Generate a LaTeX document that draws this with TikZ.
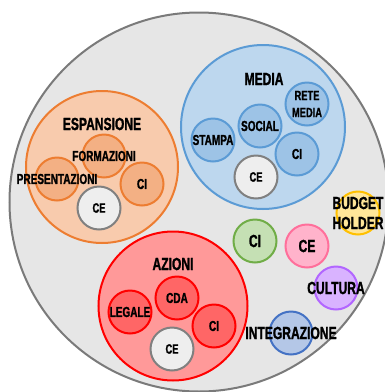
\documentclass[tikz,border=0pt]{standalone}
\usepackage{fontspec}
\newfontfamily\lbl[FakeStretch=0.69, BoldFeatures={FakeBold=1.3}]{Liberation Sans}
\definecolor{outerfill}{HTML}{E6E6E6}
\definecolor{outerline}{HTML}{7A7A7A}
\definecolor{orline}{HTML}{ED7D31}
\definecolor{orfill}{HTML}{F8CBAD}
\definecolor{orin}{HTML}{F3B084}
\definecolor{celine}{HTML}{808080}
\definecolor{cefill}{HTML}{EEEEEE}
\definecolor{blline}{HTML}{5B9BD5}
\definecolor{blfill}{HTML}{BDD7EE}
\definecolor{blin}{HTML}{9DC3E6}
\definecolor{rdline}{HTML}{FF0000}
\definecolor{rdfill}{HTML}{FF9999}
\definecolor{rdin}{HTML}{FF6666}
\definecolor{grline}{HTML}{70AD47}
\definecolor{grfill}{HTML}{C5E0B4}
\definecolor{pkline}{HTML}{FF6F9B}
\definecolor{pkfill}{HTML}{FFB3CB}
\definecolor{puline}{HTML}{B266FF}
\definecolor{pufill}{HTML}{D9B3FF}
\definecolor{yeline}{HTML}{FFC000}
\definecolor{yefill}{HTML}{FFE699}
\definecolor{inline}{HTML}{4472C4}
\definecolor{infill}{HTML}{B4C7E7}
\begin{document}
\begin{tikzpicture}[x=1pt,y=-1pt,
  every node/.style={inner sep=0pt, outer sep=0pt},
  bigtxt/.style={font=\lbl\bfseries\fontsize{17.5}{20}\selectfont},
  smalltxt/.style={font=\lbl\bfseries\fontsize{14.5}{16}\selectfont},
  cetxt/.style={font=\lbl\bfseries\fontsize{13.5}{15}\selectfont},
  group/.style={circle, line width=2pt},
  dot/.style={circle, line width=2pt, minimum size=43pt},
  cedot/.style={dot, draw=celine, fill=cefill, cetxt},
  ordot/.style={dot, draw=orline, fill=orin, smalltxt},
  bldot/.style={dot, draw=blline, fill=blin, smalltxt},
  rddot/.style={dot, draw=rdline, fill=rdin, smalltxt}]
\useasboundingbox (0,0) rectangle (385,392);
\clip (0,0) rectangle (385,392);
% outer world
\node[group, draw=outerline, fill=outerfill, minimum size=379pt] (world) at (199,202) {};
% ESPANSIONE
\node[group, draw=orline, fill=orfill, minimum size=152pt] (esp) at (102,167) {};
\node[bigtxt] (espl) at (102,124) {ESPANSIONE};
\node[ordot] (form) at (104,156) {};
\node[ordot] (pres) at (57,179) {};
\node[ordot] (espci) at (142,184) {CI};
\node[cedot] (espce) at (99,208) {CE};
\node[smalltxt] (forml) at (form) {FORMAZIONI};
\node[smalltxt] (presl) at (pres) {PRESENTAZIONI};
% MEDIA
\node[group, draw=blline, fill=blfill, minimum size=164pt] (media) at (263,127) {};
\node[bigtxt] (medial) at (264,79) {MEDIA};
\node[bldot, align=center, font=\lbl\bfseries\fontsize{13.5}{17}\selectfont] (rete) at (307,104) {RETE\\MEDIA};
\node[bldot] (social) at (260,126) {SOCIAL};
\node[bldot] (stampa) at (213,140) {STAMPA};
\node[bldot] (medci) at (297,154) {CI};
\node[cedot] (medce) at (256,177) {CE};
% AZIONI
\node[group, draw=rdline, fill=rdfill, minimum size=149pt] (az) at (173,306) {};
\node[bigtxt] (azl) at (173,264) {AZIONI};
\node[rddot] (cda) at (177,298) {CDA};
\node[rddot] (legale) at (130,312) {LEGALE};
\node[rddot] (azci) at (214,326) {CI};
\node[cedot] (azce) at (172,349) {CE};
% loose circles
\node[dot, draw=grline, fill=grfill, bigtxt] (ci) at (255,241) {CI};
\node[dot, draw=pkline, fill=pkfill, bigtxt] (ce) at (307,246) {CE};
\node[dot, draw=yeline, fill=yefill] (budget) at (358,213) {};
\node[bigtxt, align=center] (budgetl) at (358,213) {BUDGET\\HOLDER};
\node[dot, draw=puline, fill=pufill] (cult) at (336,288) {};
\node[bigtxt] (cultl) at (cult) {CULTURA};
\node[dot, draw=inline, fill=infill] (integ) at (291,333) {};
\node[bigtxt] (integl) at (integ) {INTEGRAZIONE};
\end{tikzpicture}
\end{document}
